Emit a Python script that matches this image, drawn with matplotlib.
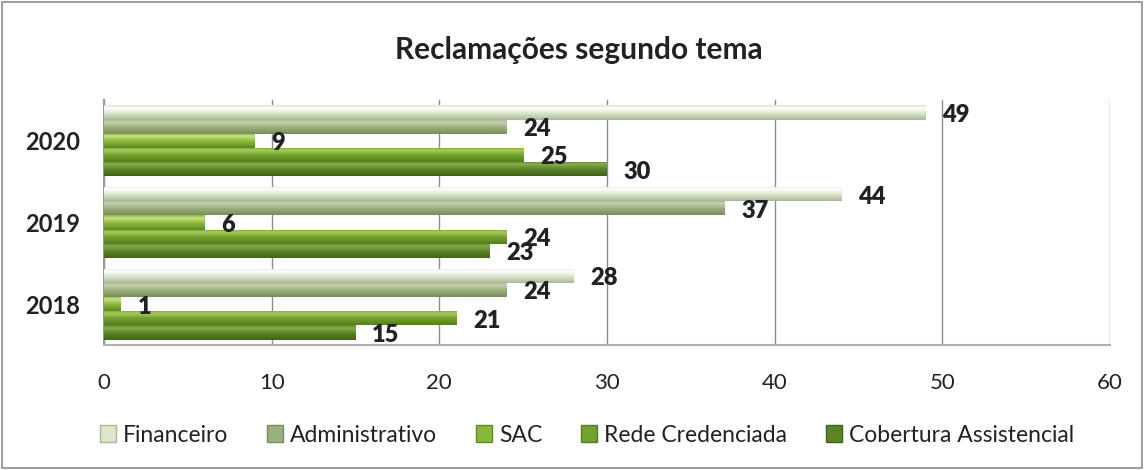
import matplotlib
matplotlib.use("Agg")
import matplotlib.pyplot as plt
import numpy as np
from matplotlib.patches import Rectangle
from matplotlib.colors import LinearSegmentedColormap

plt.rcParams['font.family'] = ['Lato', 'DejaVu Sans']

years = ["2018", "2019", "2020"]
series = ["Financeiro", "Administrativo", "SAC", "Rede Credenciada", "Cobertura Assistencial"]
financeiro = [28, 44, 49]
administrativo = [24, 37, 24]
sac = [1, 6, 9]
rede = [21, 24, 25]
cobertura = [15, 23, 30]
values = [financeiro, administrativo, sac, rede, cobertura]
xticks = [0, 10, 20, 30, 40, 50, 60]

base_colors = ["#dce6cb", "#9cb07d", "#8ab83a", "#73a22e", "#5a8427"]
light_colors = ["#ffffff", "#c6d3af", "#c8e37e", "#a8cc5c", "#86ad4a"]
dark_colors = ["#a9b898", "#788d5a", "#5f8a22", "#557d1e", "#3f6419"]

fig = plt.figure(figsize=(11.44, 4.70), dpi=100)
ax = fig.add_axes([104/1144, 1-345/470, (1110-104)/1144, 245/470])

h = 0.174
y = np.arange(len(years))

def gradient_cmap(c_dark, c_light, c_base):
    return LinearSegmentedColormap.from_list("g", [(0, c_dark), (0.45, c_base), (0.8, c_light), (1.0, c_base)])

grad = np.linspace(0, 1, 64).reshape(-1, 1)
for i, (name, vals) in enumerate(zip(series, values)):
    offs = y + (2 - i) * h
    bars = ax.barh(offs, vals, height=h, color=base_colors[i], edgecolor='none', zorder=3, label=name)
    cmap = gradient_cmap(dark_colors[i], light_colors[i], base_colors[i])
    for b, v, yy in zip(bars, vals, offs):
        im = ax.imshow(grad, extent=[0, v, yy - h/2, yy + h/2], origin='lower',
                       aspect='auto', cmap=cmap, zorder=3.5)
        im.set_clip_path(b)
        ax.text(v + 1.0, yy - 0.03, str(v), va='center', ha='left', fontsize=17,
                fontweight='heavy', color='#222222', zorder=5)

ax.set_xlim(0, 60)
ax.set_ylim(-0.5, 2.5)
ax.set_xticks(xticks)
ax.set_xticklabels([str(t) for t in xticks], fontsize=16, color='#222222')
ax.set_yticks(y)
ax.set_yticklabels(years, fontsize=17, fontweight='bold', color='#222222')
ax.tick_params(axis='both', length=0)
ax.tick_params(axis='x', pad=20)
ax.tick_params(axis='y', pad=17)
ax.grid(axis='x', color='#8c8c8c', linewidth=1.0, zorder=0)
for s in ['top', 'right']:
    ax.spines[s].set_visible(False)
ax.spines['left'].set_color('#9a9a9a')
ax.spines['bottom'].set_color('#b0b0b0')
ax.spines['left'].set_linewidth(1.5)
ax.spines['bottom'].set_linewidth(1.5)

fig.text(579/1144, 1-50/470, "Reclamações segundo tema", ha='center', va='center',
         fontsize=21.5, fontweight='bold', color='#222222')

handles = [Rectangle((0, 0), 1, 1, facecolor=base_colors[i], edgecolor=dark_colors[i]) for i in range(5)]
fig.legend(handles, series, loc='center', bbox_to_anchor=(0.513, 1-435/470), ncol=5,
           frameon=False, fontsize=16.5, handlelength=0.7, handleheight=0.7,
           handletextpad=0.3, columnspacing=1.7, labelcolor='#222222')

border = Rectangle((2/1144, 2/470), 1-4/1144, 1-4/470, transform=fig.transFigure,
                   fill=False, edgecolor='#8c8c8c', linewidth=1.2)
fig.patches.append(border)

fig.savefig("out.png", dpi=100)
